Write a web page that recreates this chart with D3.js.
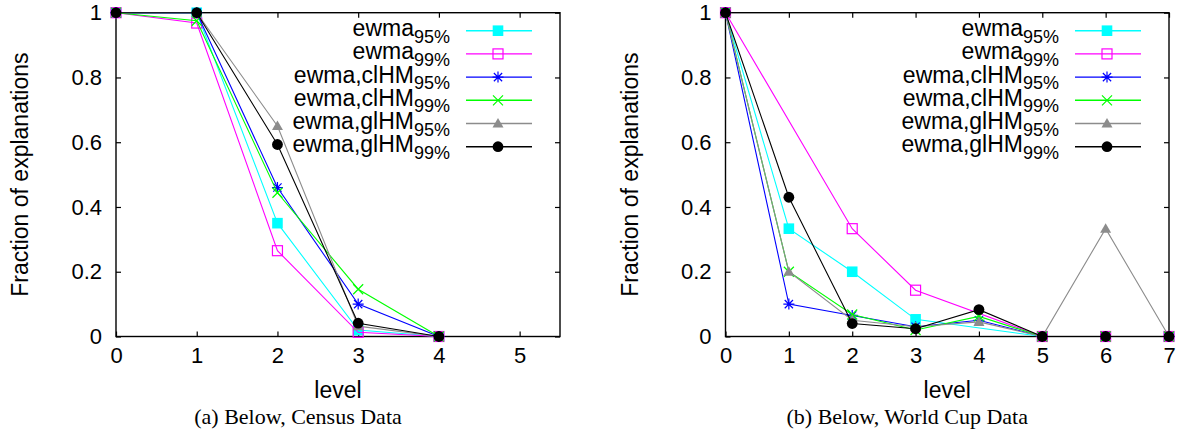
<!DOCTYPE html>
<html>
<head>
<meta charset="utf-8">
<script src="https://cdn.jsdelivr.net/npm/d3@7"></script>
<style>
  body { margin: 0; background: #fff; }
  text { font-family: "Liberation Sans", Arial, sans-serif; }
</style>
</head>
<body>
<div id="chart"></div>
<script>
// data (null = no point at that level)
var levelsCensus = [0, 1, 2, 3, 4];
var census_ewma95     = [1, 1,     0.35,  0.02,  0];
var census_ewma99     = [1, 0.968, 0.265, 0.013, 0];
var census_clHM95     = [1, 1,     0.46,  0.1,   0];
var census_clHM99     = [1, 0.975, 0.444, 0.146, 0];
var census_glHM95     = [1, 1,     0.65,  0.032, 0];
var census_glHM99     = [1, 1,     0.593, 0.041, 0];

var levelsCup = [0, 1, 2, 3, 4, 5, 6, 7];
var cup_ewma95 = [1, 0.333, 0.2,   0.053, null,  0, 0,     0];
var cup_ewma99 = [1, null,  0.333, 0.143, null,  0, 0,     0];
var cup_clHM95 = [1, 0.1,   0.065, 0.03,  0.05,  0, 0,     0];
var cup_clHM99 = [1, 0.2,   0.068, 0.02,  0.062, 0, 0,     0];
var cup_glHM95 = [1, 0.2,   0.05,  0.03,  0.045, 0, 0.333, 0];
var cup_glHM99 = [1, 0.43,  0.04,  0.024, 0.083, 0, 0,     0];

var seriesLabels = ["ewma", "ewma", "ewma,clHM", "ewma,clHM", "ewma,glHM", "ewma,glHM"];
var seriesSubs   = ["95%", "99%", "95%", "99%", "95%", "99%"];
var colors  = ["#00ffff", "#ff00ff", "#0000ff", "#00ff00", "#8c8c8c", "#000000"];
var markers = ["fsquare", "osquare", "star", "cross", "triangle", "circle"];
var yTicks = [0, 0.2, 0.4, 0.6, 0.8, 1];
var yTickLabels = ["0", "0.2", "0.4", "0.6", "0.8", "1"];

var svg = d3.select("#chart")
    .append("svg")
    .attr("width", 1180)
    .attr("height", 436);

// draw one marker of the given kind
function drawMarker(g, kind, color, cx, cy) {
    if (kind == "fsquare") {
        g.append("rect").attr("x", cx - 5.3).attr("y", cy - 5.3)
            .attr("width", 10.6).attr("height", 10.6).attr("fill", color);
    } else if (kind == "osquare") {
        g.append("rect").attr("x", cx - 5).attr("y", cy - 5)
            .attr("width", 10).attr("height", 10)
            .attr("fill", "none").attr("stroke", color).attr("stroke-width", 1.2);
    } else if (kind == "star") {
        var r = 5.5;
        g.append("path")
            .attr("d", "M" + (cx - r) + "," + cy + "h" + 2 * r +
                       "M" + cx + "," + (cy - r) + "v" + 2 * r +
                       "M" + (cx - r * 0.75) + "," + (cy - r * 0.75) + "l" + 1.5 * r + "," + 1.5 * r +
                       "M" + (cx - r * 0.75) + "," + (cy + r * 0.75) + "l" + 1.5 * r + "," + (-1.5 * r))
            .attr("stroke", color).attr("stroke-width", 1.2).attr("fill", "none");
    } else if (kind == "cross") {
        var s = 5;
        g.append("path")
            .attr("d", "M" + (cx - s) + "," + (cy - s) + "l" + 2 * s + "," + 2 * s +
                       "M" + (cx - s) + "," + (cy + s) + "l" + 2 * s + "," + (-2 * s))
            .attr("stroke", color).attr("stroke-width", 1.2).attr("fill", "none");
    } else if (kind == "triangle") {
        g.append("path")
            .attr("d", "M" + cx + "," + (cy - 5.5) + "L" + (cx + 5.5) + "," + (cy + 4) +
                       "L" + (cx - 5.5) + "," + (cy + 4) + "Z")
            .attr("fill", color);
    } else {
        g.append("circle").attr("cx", cx).attr("cy", cy).attr("r", 5.4).attr("fill", color);
    }
}

function drawPanel(p) {
    var x = d3.scaleLinear().domain([0, p.xMax]).range([p.left, p.right]);
    var y = d3.scaleLinear().domain([0, 1]).range([p.bottom, p.top]);
    var g = svg.append("g");

    // ticks on all four sides, pointing inwards
    var xt = d3.range(0, Math.floor(p.xMax) + 1);
    g.append("g").attr("transform", "translate(0," + p.bottom + ")")
        .call(d3.axisBottom(x).tickValues(xt).tickSize(-5).tickPadding(11).tickFormat(d3.format("d")))
        .call(function(a) { a.select(".domain").remove(); });
    g.append("g").attr("transform", "translate(0," + p.top + ")")
        .call(d3.axisTop(x).tickValues(xt).tickSize(-5).tickFormat(""))
        .call(function(a) { a.select(".domain").remove(); });
    g.append("g").attr("transform", "translate(" + p.left + ",0)")
        .call(d3.axisLeft(y).tickValues(yTicks).tickSize(-5).tickPadding(14)
            .tickFormat(function(d, i) { return yTickLabels[i]; }))
        .call(function(a) { a.select(".domain").remove(); });
    g.append("g").attr("transform", "translate(" + p.right + ",0)")
        .call(d3.axisRight(y).tickValues(yTicks).tickSize(-5).tickFormat(""))
        .call(function(a) { a.select(".domain").remove(); });
    g.selectAll(".tick line").attr("stroke", "#000").attr("stroke-width", 1.2);
    g.selectAll(".tick text").attr("font-size", 22).attr("fill", "#000")
        .attr("font-family", "Liberation Sans, Arial, sans-serif");

    // plot frame
    g.append("rect")
        .attr("x", p.left).attr("y", p.top)
        .attr("width", p.right - p.left).attr("height", p.bottom - p.top)
        .attr("fill", "none").attr("stroke", "#000").attr("stroke-width", 1.4);

    // series: line first, then its points
    var line = d3.line().x(function(d) { return x(d[0]); }).y(function(d) { return y(d[1]); });
    p.series.forEach(function(vals, i) {
        var pts = p.levels.map(function(l, j) { return [l, vals[j]]; })
            .filter(function(d) { return d[1] != null; });
        var sg = g.append("g");
        sg.append("path").datum(pts).attr("d", line)
            .attr("fill", "none").attr("stroke", colors[i]).attr("stroke-width", 1.1);
        pts.forEach(function(d) { drawMarker(sg, markers[i], colors[i], x(d[0]), y(d[1])); });
    });

    // legend
    seriesLabels.forEach(function(lab, i) {
        var ry = 30.7 + i * 23.2;
        var t = g.append("text").attr("x", p.right - 110).attr("y", ry + 5.5)
            .attr("text-anchor", "end").attr("font-size", 23).attr("fill", "#000");
        t.append("tspan").text(lab);
        t.append("tspan").attr("font-size", 18).attr("dy", 6.5).text(seriesSubs[i]);
        g.append("line").attr("x1", p.right - 94).attr("x2", p.right - 28)
            .attr("y1", ry).attr("y2", ry)
            .attr("stroke", colors[i]).attr("stroke-width", 1.4);
        drawMarker(g, markers[i], colors[i], p.right - 62, ry);
    });

    // axis titles and caption
    g.append("text")
        .attr("transform", "translate(" + (p.left - 88) + "," + ((p.top + p.bottom) / 2) + ") rotate(-90)")
        .attr("text-anchor", "middle").attr("font-size", 23).text("Fraction of explanations");
    g.append("text").attr("x", (p.left + p.right) / 2).attr("y", 398)
        .attr("text-anchor", "middle").attr("font-size", 23).text("level");
    g.append("text").attr("x", (p.left + p.right) / 2 - 40).attr("y", 424)
        .attr("text-anchor", "middle").attr("font-size", 22)
        .style("font-family", "Liberation Serif, Times New Roman, serif")
        .text(p.caption);
}

drawPanel({
    left: 116, right: 560, top: 12.7, bottom: 336.5, xMax: 5.5,
    levels: levelsCensus,
    series: [census_ewma95, census_ewma99, census_clHM95, census_clHM99, census_glHM95, census_glHM99],
    caption: "(a) Below, Census Data"
});

drawPanel({
    left: 725.5, right: 1169, top: 12.7, bottom: 336.5, xMax: 7,
    levels: levelsCup,
    series: [cup_ewma95, cup_ewma99, cup_clHM95, cup_clHM99, cup_glHM95, cup_glHM99],
    caption: "(b) Below, World Cup Data"
});
</script>
</body>
</html>
